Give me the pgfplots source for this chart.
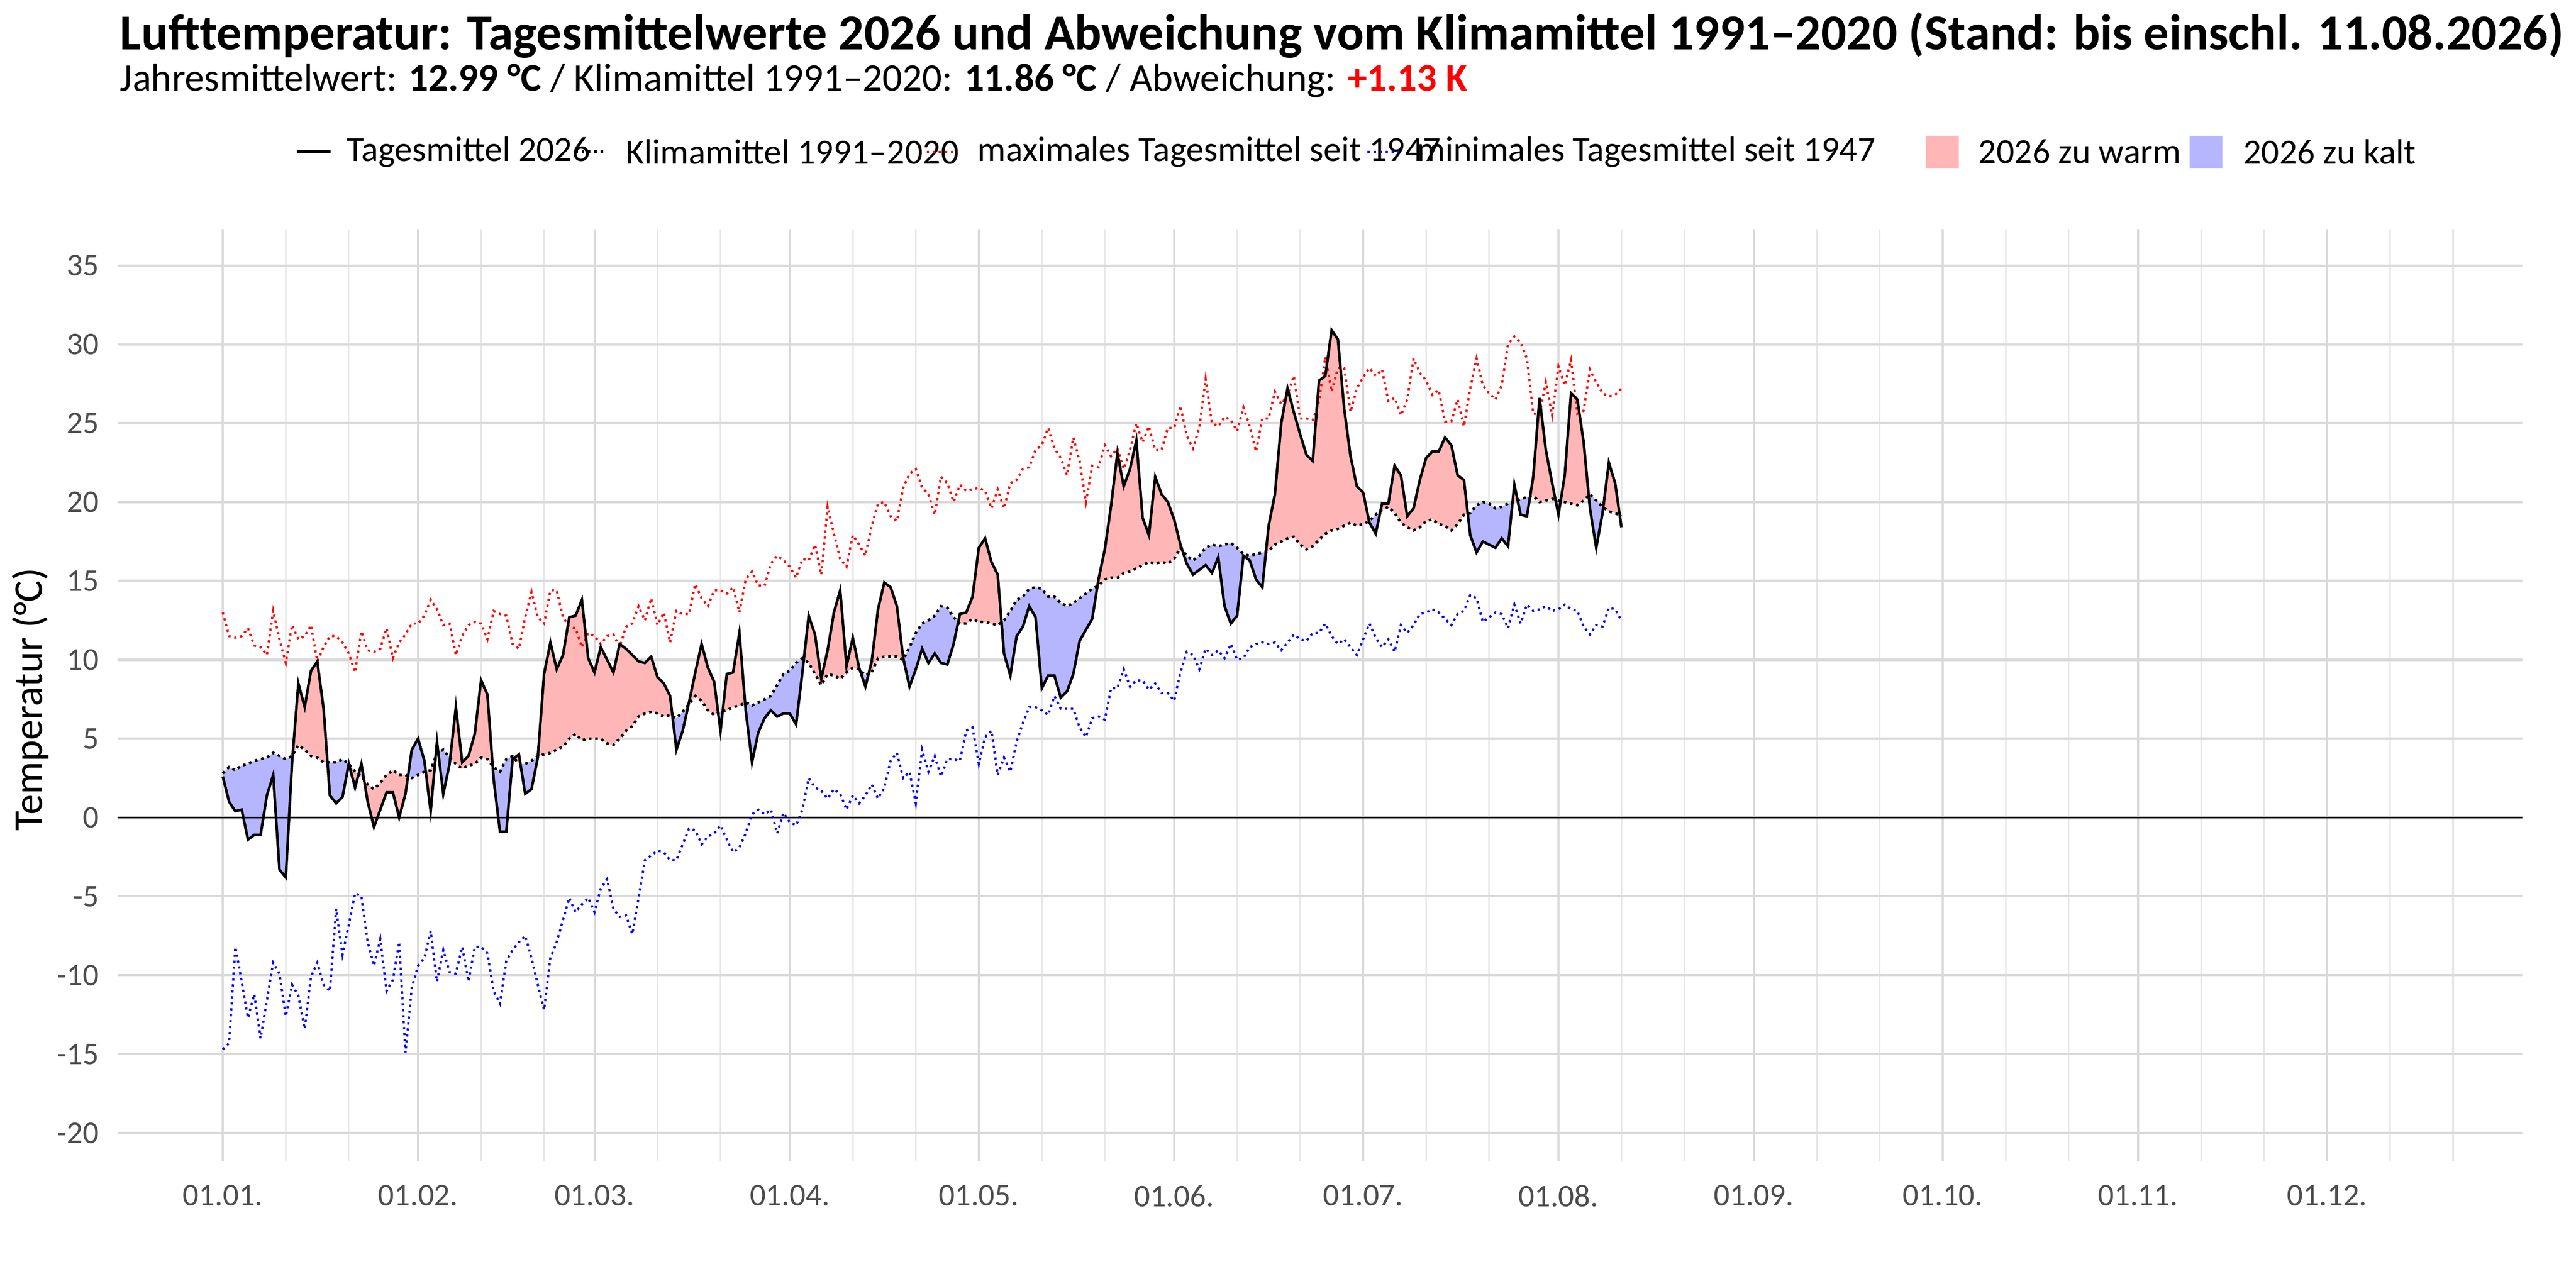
\documentclass[border=0pt]{standalone}
\usepackage{pgfplots}
\pgfplotsset{compat=1.18}
\usepackage{pgfplotstable}
\usepgfplotslibrary{fillbetween}
\usepackage{fontspec}
\setmainfont{Carlito}
\definecolor{redfill}{RGB}{255,182,182}
\definecolor{bluefill}{RGB}{182,182,255}
\definecolor{gridmaj}{RGB}{218,218,218}
\definecolor{gridmin}{RGB}{232,232,232}
\definecolor{ticktxt}{RGB}{77,77,77}
\pgfplotstableread{
d T K X N
0 2.6 2.8 13.0 -14.7
1 1.0 3.2 11.5 -14.3
2 0.4 3.0 11.4 -8.2
3 0.5 3.3 11.5 -10.4
4 -1.4 3.4 12.0 -12.7
5 -1.1 3.6 10.9 -11.2
6 -1.1 3.7 10.8 -14.0
7 1.4 3.8 10.3 -11.6
8 2.7 4.1 13.1 -9.2
9 -3.3 3.9 11.3 -9.9
10 -3.8 3.7 9.8 -12.6
11 3.5 3.9 12.2 -10.6
12 8.5 4.6 11.3 -11.3
13 7.0 4.3 11.5 -13.4
14 9.3 3.9 12.2 -10.1
15 9.9 3.8 9.9 -9.2
16 6.9 3.5 10.8 -10.6
17 1.4 3.5 11.5 -11.0
18 0.9 3.5 11.5 -5.8
19 1.3 3.7 11.1 -8.7
20 3.4 3.4 10.4 -6.8
21 1.9 2.9 9.2 -4.8
22 3.4 2.6 11.8 -5.0
23 1.0 2.1 10.6 -7.9
24 -0.6 1.8 10.5 -9.4
25 0.5 2.2 10.7 -7.7
26 1.6 2.7 12.0 -11.0
27 1.6 3.0 10.1 -10.3
28 0.0 2.7 11.1 -7.9
29 1.5 2.7 11.6 -14.9
30 4.3 2.5 12.3 -10.8
31 5.0 2.7 12.3 -9.4
32 3.6 2.9 12.8 -8.9
33 0.4 3.0 13.8 -7.2
34 4.8 4.1 13.2 -10.4
35 1.5 4.3 12.2 -8.4
36 3.4 3.8 12.3 -9.8
37 7.0 3.4 10.3 -9.9
38 3.5 3.1 11.5 -8.2
39 3.9 3.3 12.2 -10.4
40 5.3 3.4 12.4 -8.2
41 8.7 3.8 12.3 -8.2
42 7.8 3.7 11.3 -8.6
43 2.4 3.2 13.1 -11.0
44 -0.9 2.9 12.9 -11.8
45 -0.9 3.7 12.8 -9.1
46 3.7 3.9 11.0 -8.4
47 4.0 3.4 10.7 -7.9
48 1.5 3.4 12.7 -7.5
49 1.8 3.6 14.3 -8.9
50 3.8 3.9 12.7 -10.6
51 9.1 4.0 12.3 -12.2
52 11.1 4.1 14.4 -8.9
53 9.4 4.3 14.4 -7.9
54 10.3 4.5 12.7 -6.5
55 12.7 5.0 12.1 -5.1
56 12.8 5.3 12.0 -6.0
57 13.8 4.9 10.8 -5.5
58 10.1 5.0 11.7 -5.1
59 9.2 5.0 11.5 -6.0
60 10.8 5.0 11.0 -4.5
61 10.0 4.7 11.5 -3.9
62 9.2 4.6 11.6 -5.8
63 11.0 5.0 10.8 -6.3
64 10.7 5.5 12.1 -6.2
65 10.3 5.8 12.3 -7.4
66 9.9 6.4 13.4 -5.1
67 9.8 6.6 12.5 -2.7
68 10.2 6.7 13.9 -2.4
69 8.9 6.6 12.2 -2.1
70 8.5 6.4 13.0 -2.2
71 7.7 6.5 11.1 -2.7
72 4.3 6.3 13.1 -2.7
73 5.5 6.7 12.9 -1.7
74 7.3 7.2 12.9 -0.7
75 9.2 7.7 14.8 -0.8
76 11.0 7.4 13.9 -1.7
77 9.5 6.8 13.4 -1.2
78 8.6 6.5 14.4 -1.0
79 5.5 6.7 14.4 -0.5
80 9.1 6.8 14.2 -1.4
81 9.2 7.0 14.6 -2.2
82 11.7 7.1 13.0 -1.9
83 6.8 7.3 15.1 -1.0
84 3.5 7.1 15.6 0.2
85 5.4 7.3 14.7 0.5
86 6.3 7.5 14.7 0.2
87 6.8 7.7 16.1 0.5
88 6.4 8.4 16.6 -1.0
89 6.6 9.1 16.3 0.3
90 6.6 9.3 15.9 -0.3
91 5.9 9.8 15.2 -0.5
92 9.2 10.1 16.4 0.5
93 12.8 9.8 16.3 2.5
94 11.6 9.1 17.3 1.9
95 8.8 8.4 15.4 1.7
96 10.6 9.1 19.7 1.2
97 13.0 9.0 18.0 1.8
98 14.4 8.8 16.4 1.5
99 9.6 9.2 15.9 0.5
100 11.4 9.5 17.9 1.4
101 9.5 9.4 17.3 0.9
102 8.3 9.0 16.6 1.4
103 9.9 9.2 18.5 2.1
104 13.2 10.1 19.9 1.2
105 14.9 10.2 20.0 1.9
106 14.6 10.2 19.1 3.6
107 13.4 10.2 18.8 4.1
108 10.1 10.0 20.9 2.5
109 8.3 10.8 21.8 2.9
110 9.4 11.7 22.1 0.9
111 10.7 12.3 20.9 4.3
112 9.8 12.5 20.5 2.9
113 10.4 12.8 19.2 3.9
114 9.8 13.4 21.6 2.6
115 9.7 13.3 21.2 3.7
116 11.0 12.7 20.0 3.7
117 12.9 12.3 21.1 3.6
118 13.0 12.3 20.7 5.5
119 14.0 12.6 20.8 5.7
120 17.1 12.4 20.9 3.4
121 17.7 12.4 20.7 5.1
122 16.2 12.3 19.6 5.5
123 15.4 12.2 20.8 2.7
124 10.4 12.5 19.6 3.8
125 9.0 13.1 21.2 2.9
126 11.5 13.8 21.4 4.8
127 12.1 14.0 22.1 6.0
128 13.4 14.5 22.2 7.0
129 12.7 14.6 23.3 7.0
130 8.2 14.5 23.6 6.8
131 9.0 14.0 24.7 6.5
132 9.0 14.0 23.4 7.7
133 7.6 13.6 22.8 6.9
134 8.0 13.4 21.7 6.9
135 9.1 13.6 24.1 6.9
136 11.2 13.9 22.6 5.7
137 11.9 14.2 20.0 5.1
138 12.6 14.5 22.3 6.3
139 15.1 14.7 22.2 6.4
140 17.0 15.1 23.6 6.2
141 19.8 15.2 22.9 8.2
142 23.1 15.2 23.4 8.2
143 21.0 15.5 22.1 9.4
144 22.1 15.6 23.3 8.3
145 23.9 15.8 25.0 8.7
146 19.0 16.0 23.8 8.7
147 17.9 16.2 24.8 8.1
148 21.6 16.1 23.3 8.5
149 20.5 16.2 23.3 7.9
150 20.0 16.1 24.7 7.9
151 18.9 16.4 24.7 7.4
152 17.3 17.1 26.1 9.2
153 16.1 16.6 24.2 10.5
154 15.4 16.3 23.4 10.3
155 15.7 16.6 24.7 9.4
156 16.0 17.1 27.8 10.7
157 15.5 17.3 25.0 10.3
158 16.5 17.2 24.8 10.6
159 13.4 17.3 25.4 10.1
160 12.3 17.4 25.2 11.0
161 12.8 17.1 24.5 10.0
162 16.6 16.7 26.0 10.1
163 16.3 16.6 24.8 10.8
164 15.1 16.7 23.2 11.0
165 14.6 16.8 25.3 11.1
166 18.5 16.9 25.3 11.0
167 20.5 17.3 27.0 11.1
168 25.0 17.5 26.2 10.6
169 27.2 17.7 26.8 11.1
170 25.7 17.8 28.0 11.6
171 24.3 17.3 25.3 11.3
172 23.0 17.0 25.3 11.2
173 22.6 17.2 25.2 11.7
174 27.7 17.6 26.4 11.7
175 28.0 18.0 29.2 12.3
176 30.9 18.2 27.0 11.5
177 30.3 18.3 28.5 11.0
178 25.9 18.5 28.5 11.3
179 22.9 18.7 25.7 10.8
180 21.0 18.5 27.2 10.3
181 20.6 18.6 27.9 11.3
182 18.7 18.8 28.5 12.3
183 18.0 19.2 28.0 11.4
184 19.9 19.5 28.4 10.8
185 19.9 19.7 26.4 11.3
186 22.3 19.3 26.6 10.5
187 21.7 18.7 25.5 12.2
188 19.1 18.4 26.5 11.7
189 19.6 18.2 29.1 12.2
190 21.4 18.4 28.2 12.9
191 22.8 18.8 27.7 13.0
192 23.2 18.9 26.8 13.2
193 23.2 18.6 27.1 13.0
194 24.1 18.5 25.1 12.6
195 23.6 18.2 25.1 12.2
196 21.7 18.6 26.5 12.9
197 21.4 19.2 24.8 13.1
198 17.9 19.3 27.2 14.1
199 16.8 19.8 29.1 13.9
200 17.5 20.0 27.4 12.4
201 17.3 19.9 26.9 12.7
202 17.1 19.6 26.5 13.0
203 17.7 19.7 27.4 12.9
204 17.2 19.9 30.0 12.0
205 21.1 20.0 30.5 13.5
206 19.2 20.2 30.1 12.3
207 19.1 20.3 29.1 13.5
208 21.6 20.4 25.6 13.1
209 26.6 20.0 25.6 13.2
210 23.3 20.1 27.6 13.4
211 21.2 20.2 25.5 13.1
212 19.2 20.1 28.6 13.2
213 21.7 20.0 27.4 13.5
214 26.9 19.9 29.0 13.2
215 26.5 19.8 25.6 13.1
216 23.8 20.1 25.8 12.1
217 19.6 20.5 28.4 11.6
218 17.1 20.1 27.6 12.2
219 19.3 19.7 26.9 12.1
220 22.5 19.4 26.7 13.3
221 21.2 19.3 26.8 13.2
222 18.4 19.1 27.2 12.5
}\data
\begin{document}
\begin{tikzpicture}
\begin{axis}[
  at={(1.10cm,1.06cm)}, anchor=south west,
  scale only axis, width=22.7cm, height=8.8cm,
  xmin=-16.7, xmax=365, ymin=-21.8, ymax=37.3,
  axis line style={draw=none},
  xtick={0,31,59,90,120,151,181,212,243,273,304,334},
  xticklabels={01.01.,01.02.,01.03.,01.04.,01.05.,01.06.,01.07.,01.08.,01.09.,01.10.,01.11.,01.12.},
  minor xtick={10,20,41,51,69,79,100,110,130,140,161,171,191,201,222,232,253,263,283,293,314,324,344,354},
  ytick={-20,-15,...,35},
  xmajorgrids, ymajorgrids, xminorgrids,
  major grid style={gridmaj, line width=0.6pt},
  minor grid style={gridmin, line width=0.45pt},
  tick style={draw=none},
  tick label style={font=\fontsize{8.5}{10}\selectfont, text=ticktxt},
  /pgf/number format/assume math mode=true,
  xticklabel style={yshift=-0.1cm},
  yticklabel style={xshift=-0.05cm},
]
\addplot[draw=none, name path=T, forget plot] table[x=d, y=T] {\data};
\addplot[draw=none, name path=K, forget plot] table[x=d, y=K] {\data};
\addplot fill between[of=T and K, split,
  every even segment/.style={fill=bluefill, draw=none},
  every odd segment/.style={fill=redfill, draw=none}];
\addplot[black, line width=0.5pt, forget plot] coordinates {(-16.7,0) (365,0)};
\addplot[red, densely dotted, line width=0.6pt] table[x=d, y=X] {\data};
\addplot[blue, densely dotted, line width=0.6pt] table[x=d, y=N] {\data};
\addplot[black, densely dotted, line width=0.7pt] table[x=d, y=K] {\data};
\addplot[black, line width=0.7pt] table[x=d, y=T] {\data};
\end{axis}
\path (0,0) rectangle (24cm,12cm);
\node[anchor=west, font=\bfseries\fontsize{13.5}{16}\selectfont] at (1.0cm,11.69cm) {Lufttemperatur: Tagesmittelwerte 2026 und Abweichung vom Klimamittel 1991–2020 (Stand: bis einschl. 11.08.2026)};
\node[anchor=west, font=\fontsize{10.5}{12}\selectfont] at (1.0cm,11.26cm) {Jahresmittelwert: \textbf{12.99 °C} / Klimamittel 1991–2020: \textbf{11.86 °C} / Abweichung: \textcolor{red}{\textbf{+1.13 K}}};
\node[rotate=90, font=\fontsize{11}{13}\selectfont] at (0.28cm,5.42cm) {Temperatur (°C)};
\begin{scope}[font=\fontsize{9.5}{11}\selectfont]
\def\ly{10.59cm}
\draw[black, line width=0.7pt] (2.79cm,\ly) -- (3.11cm,\ly);
\node[anchor=west, inner sep=0] at (3.26cm,\ly) {Tagesmittel 2026};
\draw[black, densely dotted, line width=0.7pt] (5.42cm,\ly) -- (5.70cm,\ly);
\node[anchor=west, inner sep=0] at (5.89cm,\ly) {Klimamittel 1991–2020};
\draw[red, densely dotted, line width=0.6pt] (8.74cm,\ly) -- (9.03cm,\ly);
\node[anchor=west, inner sep=0] at (9.21cm,\ly) {maximales Tagesmittel seit 1947};
\draw[blue, densely dotted, line width=0.6pt] (12.90cm,\ly) -- (13.19cm,\ly);
\node[anchor=west, inner sep=0] at (13.36cm,\ly) {minimales Tagesmittel seit 1947};
\fill[redfill] (18.17cm,10.44cm) rectangle (18.48cm,10.74cm);
\node[anchor=west, inner sep=0] at (18.66cm,\ly) {2026 zu warm};
\fill[bluefill] (20.66cm,10.44cm) rectangle (20.97cm,10.74cm);
\node[anchor=west, inner sep=0] at (21.16cm,\ly) {2026 zu kalt};
\end{scope}
\end{tikzpicture}
\end{document}
